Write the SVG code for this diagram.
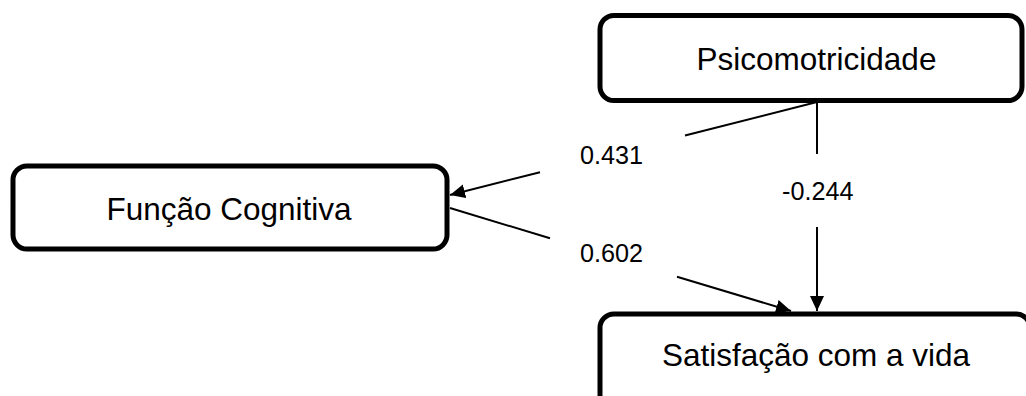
<svg xmlns="http://www.w3.org/2000/svg" width="1026" height="396" viewBox="0 0 1026 396">
  <style>
    .box { fill: #ffffff; stroke: #000000; stroke-width: 5; }
    .node-label { font-family: "Liberation Sans", Arial, sans-serif; font-size: 31.5px; fill: #000000; text-anchor: middle; }
    .edge { fill: none; stroke: #000000; stroke-width: 2; }
    .edge-label { font-family: "Liberation Sans", Arial, sans-serif; font-size: 25.2px; fill: #000000; }
  </style>
  <defs>
    <marker id="arrow" markerUnits="userSpaceOnUse" markerWidth="16" markerHeight="16" refX="15" refY="7" orient="auto">
      <path d="M0,0 L15,7 L0,14 Z" fill="#000000"/>
    </marker>
  </defs>
  <rect width="1026" height="396" fill="#ffffff"/>

  <g id="edges">
    <!-- Psicomotricidade -> Função Cognitiva -->
    <path class="edge" d="M817,102 L685,135.5 M540,172.2 L450,195" marker-end="url(#arrow)"/>
    <!-- Função Cognitiva -> Satisfação com a vida -->
    <path class="edge" d="M450,208 L550,238.3 M677,276.8 L791,311" marker-end="url(#arrow)"/>
    <!-- Psicomotricidade -> Satisfação com a vida -->
    <path class="edge" d="M817,102 L817,154 M817,227 L817,311" marker-end="url(#arrow)"/>
    <text class="edge-label" x="580" y="164">0.431</text>
    <text class="edge-label" x="782" y="200">-0.244</text>
    <text class="edge-label" x="580" y="262">0.602</text>
  </g>

  <g id="node-psicomotricidade">
    <rect class="box" x="600" y="15.5" width="422" height="85" rx="14"/>
    <text class="node-label" x="816.5" y="70">Psicomotricidade</text>
  </g>

  <g id="node-funcao-cognitiva">
    <rect class="box" x="13" y="166" width="434" height="83" rx="14"/>
    <text class="node-label" x="229" y="220">Função Cognitiva</text>
  </g>

  <g id="node-satisfacao">
    <rect class="box" x="600" y="314" width="430" height="110" rx="14"/>
    <text class="node-label" x="816" y="366">Satisfação com a vida</text>
  </g>
</svg>
